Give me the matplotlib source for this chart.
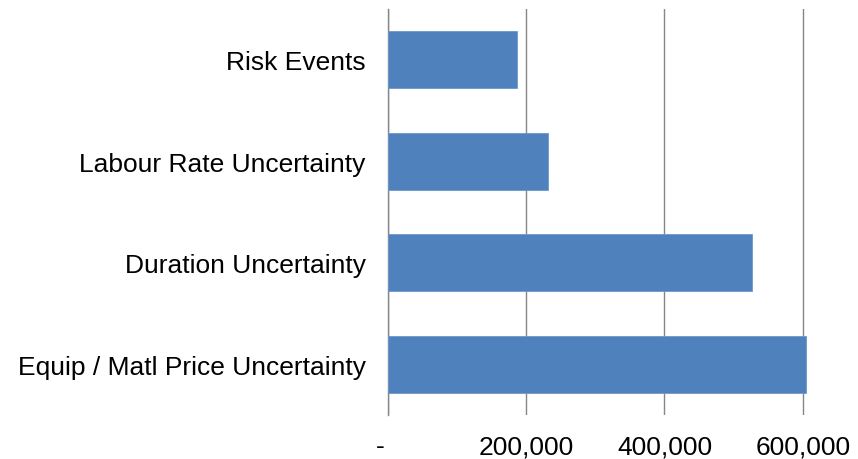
import matplotlib
matplotlib.use("Agg")
import matplotlib.pyplot as plt
from matplotlib.ticker import FuncFormatter, FixedLocator

plt.rcParams['font.family'] = ['Liberation Sans', 'DejaVu Sans']

categories = ["Risk Events", "Labour Rate Uncertainty", "Duration Uncertainty",
              "Equip / Matl Price Uncertainty"]
values = [186000, 232000, 527000, 605000]
x_ticks = [0, 200000, 400000, 600000]

W, H = 858, 460
fig = plt.figure(figsize=(W / 100, H / 100), dpi=100)
ax = fig.add_axes([388 / W, 44 / H, (W - 388) / W, 406 / H])

ypos = list(range(len(categories)))
ax.barh(ypos, values, height=0.565, color="#4F81BD", edgecolor="#6E97CB",
        linewidth=0.6, zorder=3)

ax.set_ylim(len(categories) - 0.5, -0.5)
ax.set_xlim(0, 680000)

ax.set_yticks(ypos)
ax.set_yticklabels(categories)
ax.xaxis.set_major_locator(FixedLocator(x_ticks))
# zero is shown as a dash, nudged left of the axis line
ax.xaxis.set_major_formatter(FuncFormatter(lambda v, p: "-  " if v == 0 else f"{v:,.0f}"))

ax.tick_params(axis='y', length=0, pad=16, labelsize=19, labelcolor="#000000")
ax.tick_params(axis='x', length=0, pad=14, labelsize=19, labelcolor="#000000")

ax.grid(axis='x', color="#868686", linewidth=1.0, zorder=0)
for side in ("top", "right", "bottom"):
    ax.spines[side].set_visible(False)
ax.spines["left"].set_color("#868686")
ax.spines["left"].set_linewidth(1.0)

fig.savefig("out.png", dpi=100)
